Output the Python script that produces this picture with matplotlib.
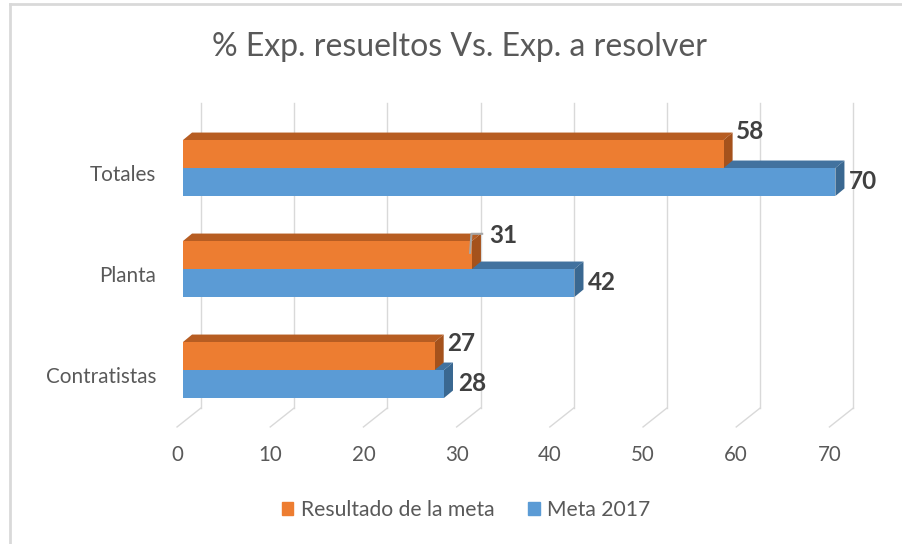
import numpy as np
import matplotlib.pyplot as plt
from matplotlib.patches import Polygon, Patch
from matplotlib.lines import Line2D

plt.rcParams['font.family'] = ['Lato', 'DejaVu Sans']

# datos
categorias = ['Contratistas', 'Planta', 'Totales']
resultado = [27, 31, 58]     # Resultado de la meta
meta = [28, 42, 70]          # Meta 2017
ticks = [0, 10, 20, 30, 40, 50, 60, 70]

titulo = '% Exp. resueltos Vs. Exp. a resolver'

# colores
naranja, naranja_top, naranja_lado = '#ED7D31', '#B75D22', '#A5521C'
azul, azul_top, azul_lado = '#5B9BD5', '#42729F', '#3A6891'
gris_txt = '#595959'
gris_lbl = '#404040'
gris_grid = '#D9D9D9'

# efecto 3D (unidades de datos)
h = 0.277            # alto de cada barra
ddx, ddy = 0.97, 0.074   # profundidad de la barra
fx, fy = -0.64, -0.064   # plano frontal del piso
bx, by = 1.93, 0.124     # pared del fondo
wall_top = 2.644

# ajuste manual de etiquetas naranjas (como en el original)
lbl_dy = [0.12, 0.19, 0.22]
lbl_dx = [0.0, 0.5, 0.0]

fig = plt.figure(figsize=(9.03, 5.44), dpi=100)
ax = fig.add_axes([183/903, (544-420.5)/544, 652.4/903, 303/544])
ax.set_xlim(0, 70)
ax.set_ylim(-0.5, 2.5)
ax.axis('off')

# pared del fondo y piso
for t in ticks:
    ax.plot([t+bx, t+bx], [-0.5+by, wall_top], color=gris_grid, lw=1, clip_on=False, zorder=1)
    ax.plot([t+fx, t+bx], [-0.5+fy, -0.5+by], color=gris_grid, lw=1, clip_on=False, zorder=1)
    ax.text(t+fx, -0.842, str(t), ha='center', va='center', fontsize=14.8, color=gris_txt)

def barra(v, y0, cf, ct, cs):
    y1 = y0 + h
    ax.add_patch(Polygon([(0, y1), (v, y1), (v+ddx, y1+ddy), (ddx, y1+ddy)],
                         closed=True, fc=ct, ec='none', zorder=3, clip_on=False))
    ax.add_patch(Polygon([(v, y0), (v, y1), (v+ddx, y1+ddy), (v+ddx, y0+ddy)],
                         closed=True, fc=cs, ec='none', zorder=3, clip_on=False))
    ax.add_patch(Polygon([(0, y0), (v, y0), (v, y1), (0, y1)],
                         closed=True, fc=cf, ec='none', zorder=3, clip_on=False))

for k, cat in enumerate(categorias):
    barra(meta[k], k - h, azul, azul_top, azul_lado)
    barra(resultado[k], k, naranja, naranja_top, naranja_lado)

    ax.text(-2.9, k - 0.065, cat, ha='right', va='center', fontsize=14.9, color=gris_txt)

    ax.text(meta[k] + ddx + 0.5, k - h/2, str(meta[k]), ha='left', va='center',
            fontsize=17.5, fontweight='bold', color=gris_lbl, zorder=5)
    ly = k + h/2 + lbl_dy[k]
    lx = resultado[k] + ddx + 0.4 + lbl_dx[k]
    ax.text(lx, ly, str(resultado[k]), ha='left', va='center',
            fontsize=17.5, fontweight='bold', color=gris_lbl, zorder=5)
    if lbl_dx[k] > 0:
        v = resultado[k]
        ax.plot([v - 0.2, v - 0.05, v + 1.1], [k + 0.16, ly + 0.02, ly + 0.02],
                color='#A6A6A6', lw=1.5, zorder=4, clip_on=False)

fig.text(0.509, (544-47)/544, titulo, ha='center', va='center', fontsize=23, color=gris_txt)

handles = [Patch(color=naranja, label='Resultado de la meta'),
           Patch(color=azul, label='Meta 2017')]
fig.legend(handles=handles, loc='center', bbox_to_anchor=(0.516, 34/544), ncol=2,
           frameon=False, fontsize=15.2, labelcolor=gris_txt, handlelength=0.55,
           handleheight=0.55, handletextpad=0.35, columnspacing=1.6)

# borde del gráfico
fig.add_artist(Line2D([10/903, 10/903], [0, 1-4/544], color=gris_grid, lw=2))
fig.add_artist(Line2D([10/903, 1], [1-4/544, 1-4/544], color=gris_grid, lw=2))

fig.savefig('out.png', dpi=100)
